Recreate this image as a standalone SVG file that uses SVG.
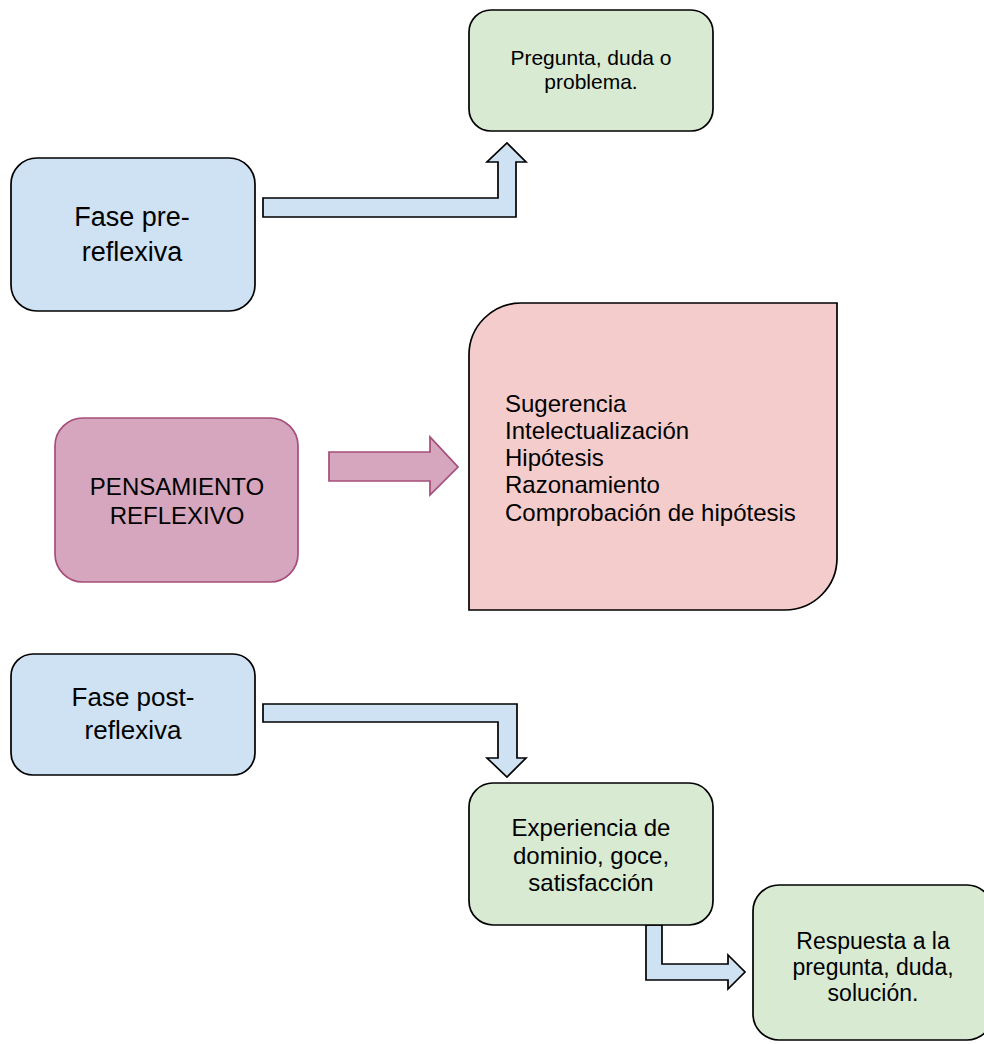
<svg xmlns="http://www.w3.org/2000/svg" width="984" height="1044" viewBox="0 0 984 1044">
<style>
text { font-family: "Liberation Sans", Arial, sans-serif; fill: #000; }
.c { text-anchor: middle; }
.blue { fill: #cfe2f3; stroke: #000; stroke-width: 1.7; }
.green { fill: #d9ead3; stroke: #000; stroke-width: 1.7; }
.rose { fill: #f4cccc; stroke: #000; stroke-width: 1.7; }
.mag { fill: #d5a6bd; stroke: #a64d79; stroke-width: 1.7; }
.arrow-blue { fill: #cfe2f3; stroke: #000; stroke-width: 1.7; stroke-linejoin: miter; }
.arrow-mag { fill: #d5a6bd; stroke: #a64d79; stroke-width: 1.7; }
</style>
<rect width="984" height="1044" fill="#fff"/>

<g id="connectors">
  <path class="arrow-blue" d="M263,198 L498,198 L498,162 L487,162 L507,143 L526,162 L516,162 L516,217 L263,217 Z"/>
  <path class="arrow-mag" d="M329,452 L430,452 L430,437 L458,467 L430,495 L430,481 L329,481 Z"/>
  <path class="arrow-blue" d="M263,704 L517,704 L517,758 L526,758 L507,777 L487,758 L498,758 L498,722 L263,722 Z"/>
  <path class="arrow-blue" d="M646,925 L662,925 L662,964 L728,964 L728,955 L745,972 L728,989 L728,980 L646,980 Z"/>
</g>

<g id="pregunta">
  <rect class="green" x="469" y="10" width="244" height="121" rx="22"/>
  <text class="c" x="591" y="65" font-size="21">Pregunta, duda o</text>
  <text class="c" x="591" y="89" font-size="21">problema.</text>
</g>

<g id="fase-pre">
  <rect class="blue" x="11" y="158" width="244" height="153" rx="26"/>
  <text class="c" x="132" y="226" font-size="27">Fase pre-</text>
  <text class="c" x="132" y="261" font-size="27">reflexiva</text>
</g>

<g id="pensamiento">
  <rect class="mag" x="55" y="418" width="243" height="164" rx="28"/>
  <text class="c" x="177" y="495" font-size="24">PENSAMIENTO</text>
  <text class="c" x="177" y="524" font-size="24">REFLEXIVO</text>
</g>

<g id="lista">
  <path class="rose" d="M469,610 L469,355 A52,52 0 0 1 521,303 L837,303 L837,558 A52,52 0 0 1 785,610 Z"/>
  <text x="505" y="412" font-size="24">Sugerencia</text>
  <text x="505" y="439" font-size="24">Intelectualización</text>
  <text x="505" y="466" font-size="24">Hipótesis</text>
  <text x="505" y="493" font-size="24">Razonamiento</text>
  <text x="505" y="521" font-size="24">Comprobación de hipótesis</text>
</g>

<g id="fase-post">
  <rect class="blue" x="11" y="654" width="244" height="121" rx="22"/>
  <text class="c" x="133" y="706" font-size="26">Fase post-</text>
  <text class="c" x="133" y="739" font-size="26">reflexiva</text>
</g>

<g id="experiencia">
  <rect class="green" x="469" y="783" width="244" height="142" rx="24"/>
  <text class="c" x="591" y="836" font-size="24">Experiencia de</text>
  <text class="c" x="591" y="864" font-size="24">dominio, goce,</text>
  <text class="c" x="591" y="891" font-size="24">satisfacción</text>
</g>

<g id="respuesta">
  <rect class="green" x="753" y="885" width="240" height="155" rx="26"/>
  <text class="c" x="873" y="949" font-size="23">Respuesta a la</text>
  <text class="c" x="873" y="975" font-size="23">pregunta, duda,</text>
  <text class="c" x="873" y="1001" font-size="23">solución.</text>
</g>
</svg>
